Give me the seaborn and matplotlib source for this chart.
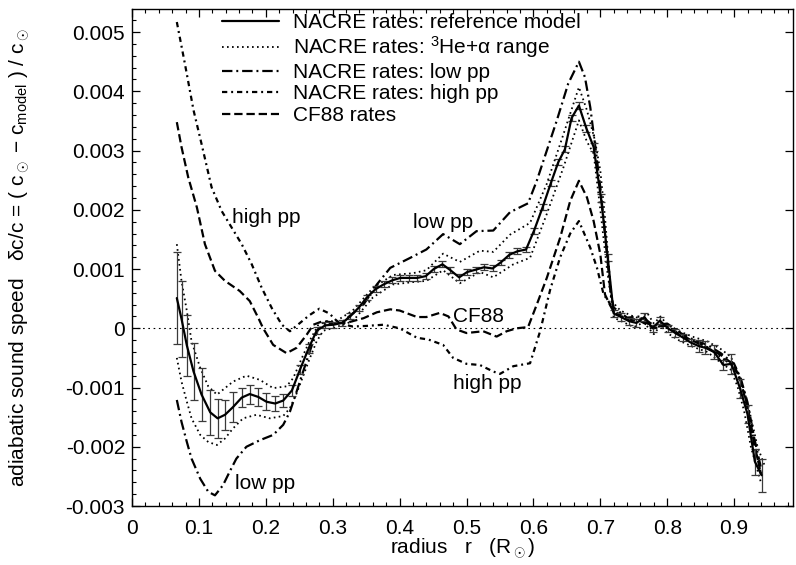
import numpy as np
import matplotlib
matplotlib.use("Agg")
import matplotlib.pyplot as plt
import seaborn as sns

# ---------------- data (sound-speed differences in units of 1e-3) ----------------
ref_r = [0.067, 0.074, 0.082, 0.092, 0.104, 0.117, 0.128, 0.139, 0.151, 0.164,
         0.176, 0.189, 0.201, 0.214, 0.226, 0.239, 0.251, 0.264, 0.276, 0.289,
         0.301, 0.314, 0.326, 0.339, 0.351, 0.364, 0.376, 0.389, 0.401, 0.414,
         0.426, 0.439, 0.451, 0.464, 0.476, 0.489, 0.501, 0.514, 0.526, 0.539,
         0.551, 0.564, 0.576, 0.589, 0.601, 0.614, 0.626, 0.637, 0.647, 0.657,
         0.668, 0.679, 0.690, 0.701, 0.711, 0.720, 0.731, 0.743, 0.754, 0.766,
         0.778, 0.789, 0.801, 0.812, 0.824, 0.835, 0.847, 0.857, 0.870, 0.884,
         0.896, 0.909, 0.920, 0.931, 0.941]
ref_dc = [0.51, 0.16, -0.29, -0.73, -1.12, -1.42, -1.52, -1.46, -1.33, -1.17,
          -1.11, -1.16, -1.24, -1.27, -1.22, -1.05, -0.70, -0.34, -0.04, 0.05,
          0.06, 0.09, 0.20, 0.35, 0.52, 0.66, 0.74, 0.81, 0.85, 0.85,
          0.85, 0.88, 1.00, 1.08, 0.98, 0.86, 0.95, 0.99, 1.03, 1.01,
          1.11, 1.24, 1.30, 1.33, 1.65, 2.05, 2.45, 2.80, 3.02, 3.55,
          3.76, 3.38, 3.06, 2.20, 1.20, 0.25, 0.19, 0.12, 0.09, 0.19,
          0.00, 0.13, 0.00, -0.08, -0.16, -0.24, -0.30, -0.33, -0.40, -0.62,
          -0.60, -1.02, -1.45, -2.25, -2.48]
ref_err = [0.78, 0.64, 0.52, 0.48, 0.45, 0.38, 0.33, 0.25, 0.25, 0.16,
           0.16, 0.15, 0.14, 0.13, 0.11, 0.10, 0.08, 0.07, 0.06, 0.05,
           0.05, 0.05, 0.05, 0.05, 0.05, 0.05, 0.05, 0.05, 0.05, 0.05,
           0.05, 0.05, 0.05, 0.05, 0.05, 0.05, 0.05, 0.05, 0.05, 0.05,
           0.05, 0.05, 0.05, 0.05, 0.05, 0.05, 0.05, 0.05, 0.05, 0.05,
           0.06, 0.06, 0.06, 0.06, 0.06, 0.06, 0.06, 0.06, 0.06, 0.06,
           0.06, 0.06, 0.06, 0.06, 0.06, 0.06, 0.10, 0.11, 0.12, 0.08,
           0.17, 0.16, 0.15, 0.22, 0.28]

he_hi_r = [0.067, 0.074, 0.082, 0.089, 0.102, 0.114, 0.127, 0.139, 0.151, 0.171,
           0.191, 0.211, 0.231, 0.241, 0.254, 0.266, 0.278, 0.29, 0.305, 0.33,
           0.36, 0.39, 0.42, 0.44, 0.465, 0.49, 0.52, 0.54, 0.565, 0.595,
           0.62, 0.645, 0.668, 0.68, 0.692, 0.70, 0.707, 0.717, 0.73, 0.745,
           0.76, 0.77, 0.78, 0.79, 0.80, 0.82, 0.84, 0.86, 0.88, 0.895,
           0.905, 0.915, 0.925, 0.935, 0.945]
he_hi_dc = [1.42, 0.80, 0.29, -0.22, -0.67, -0.98, -1.12, -1.01, -0.90, -0.80,
            -0.87, -1.01, -0.98, -0.84, -0.50, -0.20, 0.05, 0.12, 0.12, 0.30,
            0.68, 0.90, 0.93, 0.98, 1.26, 1.12, 1.31, 1.29, 1.58, 1.78,
            2.44, 3.28, 4.07, 3.68, 3.17, 2.66, 1.87, 0.46, 0.30, 0.22,
            0.16, 0.26, 0.08, 0.20, 0.06, -0.06, -0.15, -0.22, -0.35, -0.48,
            -0.72, -1.05, -1.50, -2.00, -2.30]

he_lo_r = [0.067, 0.074, 0.082, 0.089, 0.102, 0.114, 0.127, 0.139, 0.151, 0.166,
           0.186, 0.206, 0.226, 0.236, 0.246, 0.256, 0.266, 0.276, 0.286, 0.30,
           0.33, 0.36, 0.39, 0.42, 0.44, 0.465, 0.49, 0.52, 0.54, 0.57,
           0.595, 0.62, 0.645, 0.668, 0.68, 0.69, 0.70, 0.71, 0.72, 0.735,
           0.75, 0.765, 0.78, 0.79, 0.80, 0.82, 0.84, 0.86, 0.88, 0.895,
           0.905, 0.915, 0.925, 0.935, 0.94]
he_lo_dc = [-0.50, -0.90, -1.24, -1.52, -1.80, -1.92, -1.97, -1.86, -1.69, -1.52,
            -1.46, -1.52, -1.48, -1.35, -1.10, -0.80, -0.50, -0.22, -0.04, 0.00,
            0.12, 0.52, 0.74, 0.78, 0.80, 0.98, 0.76, 0.95, 0.86, 1.08,
            1.19, 1.93, 2.72, 3.51, 3.15, 2.95, 2.00, 1.00, 0.18, 0.10,
            0.02, 0.10, -0.10, 0.05, -0.08, -0.22, -0.32, -0.40, -0.58, -0.70,
            -0.98, -1.40, -2.00, -2.40, -2.60]

lowpp_r = [0.067, 0.074, 0.082, 0.089, 0.102, 0.114, 0.124, 0.136, 0.146, 0.156,
           0.171, 0.191, 0.211, 0.226, 0.236, 0.246, 0.259, 0.269, 0.278, 0.29,
           0.30, 0.316, 0.346, 0.366, 0.386, 0.416, 0.44, 0.465, 0.49, 0.515,
           0.54, 0.565, 0.592, 0.605, 0.62, 0.635, 0.652, 0.668, 0.677, 0.685,
           0.692, 0.70, 0.707, 0.715, 0.72, 0.74, 0.76, 0.78, 0.80, 0.82,
           0.84, 0.86, 0.88, 0.90, 0.91, 0.92, 0.93, 0.94]
lowpp_dc = [-1.21, -1.58, -1.92, -2.20, -2.54, -2.76, -2.82, -2.65, -2.42, -2.20,
            -2.00, -1.89, -1.80, -1.63, -1.41, -1.07, -0.62, -0.28, -0.02, 0.10,
            0.08, 0.12, 0.40, 0.74, 1.02, 1.19, 1.33, 1.59, 1.42, 1.64,
            1.65, 1.96, 2.11, 2.49, 3.00, 3.51, 4.13, 4.50, 4.24, 3.73,
            3.11, 2.38, 1.59, 0.63, 0.35, 0.18, 0.20, 0.05, 0.08, -0.08,
            -0.20, -0.28, -0.42, -0.60, -0.85, -1.25, -1.85, -2.35]

highpp_r = [0.067, 0.079, 0.092, 0.104, 0.119, 0.134, 0.149, 0.164, 0.179, 0.194,
            0.209, 0.224, 0.236, 0.25, 0.265, 0.28, 0.295, 0.31, 0.33, 0.35,
            0.376, 0.40, 0.426, 0.443, 0.465, 0.48, 0.50, 0.52, 0.54, 0.55,
            0.57, 0.595, 0.61, 0.625, 0.64, 0.655, 0.668, 0.685, 0.695, 0.705,
            0.712, 0.72, 0.74, 0.76, 0.78, 0.80, 0.82, 0.84, 0.86, 0.88,
            0.90, 0.91, 0.92, 0.93, 0.94]
highpp_dc = [5.17, 4.47, 3.68, 3.11, 2.38, 1.98, 1.70, 1.42, 1.08, 0.68,
             0.34, 0.06, -0.05, 0.08, 0.22, 0.33, 0.25, 0.08, 0.03, 0.04,
             0.06, 0.00, -0.16, -0.19, -0.28, -0.50, -0.60, -0.62, -0.73, -0.77,
             -0.64, -0.59, -0.05, 0.65, 1.20, 1.60, 1.81, 1.36, 1.02, 0.57,
             0.46, 0.30, 0.15, 0.15, 0.02, 0.05, -0.12, -0.22, -0.32, -0.48,
             -0.65, -0.90, -1.30, -1.95, -2.45]

cf88_r = [0.067, 0.074, 0.084, 0.097, 0.109, 0.124, 0.139, 0.161, 0.176, 0.189,
          0.196, 0.211, 0.231, 0.246, 0.261, 0.271, 0.285, 0.30, 0.32, 0.346,
          0.366, 0.386, 0.40, 0.426, 0.44, 0.46, 0.473, 0.485, 0.50, 0.525,
          0.545, 0.56, 0.575, 0.592, 0.605, 0.62, 0.64, 0.655, 0.668, 0.68,
          0.69, 0.70, 0.707, 0.715, 0.72, 0.74, 0.76, 0.78, 0.80, 0.82,
          0.84, 0.86, 0.88, 0.90, 0.91, 0.92, 0.93, 0.94]
cf88_dc = [3.48, 3.06, 2.55, 2.04, 1.42, 0.97, 0.80, 0.63, 0.46, 0.17,
           0.00, -0.28, -0.42, -0.33, -0.11, 0.06, 0.12, 0.10, 0.09, 0.17,
           0.27, 0.32, 0.30, 0.19, 0.19, 0.26, 0.20, -0.02, -0.08, -0.05,
           -0.14, -0.05, 0.00, 0.02, 0.40, 0.85, 1.53, 2.15, 2.49, 2.21,
           1.81, 1.25, 0.57, 0.38, 0.28, 0.15, 0.12, 0.00, 0.05, -0.12,
           -0.22, -0.33, -0.45, -0.62, -0.90, -1.35, -1.95, -2.45]

labels = ["NACRE rates: reference model",
          "NACRE rates: $^3$He+\u03b1 range",
          "NACRE rates: low pp",
          "NACRE rates: high pp",
          "CF88 rates"]

xtick_vals = [0, 0.1, 0.2, 0.3, 0.4, 0.5, 0.6, 0.7, 0.8, 0.9]
xtick_labels = ["0", "0.1", "0.2", "0.3", "0.4", "0.5", "0.6", "0.7", "0.8", "0.9"]
ytick_vals = [-0.003, -0.002, -0.001, 0, 0.001, 0.002, 0.003, 0.004, 0.005]
ytick_labels = ["-0.003", "-0.002", "-0.001", "0", "0.001", "0.002", "0.003", "0.004", "0.005"]

annotations = [("high pp", 0.149, 0.00187), ("low pp", 0.154, -0.00262),
               ("low pp", 0.420, 0.00178), ("CF88", 0.480, 0.00020),
               ("high pp", 0.480, -0.00093)]

# ---------------- style ----------------
sns.set_theme(style="ticks")
plt.rcParams["font.family"] = ["Liberation Sans", "DejaVu Sans"]
plt.rcParams["mathtext.fontset"] = "custom"
plt.rcParams["mathtext.rm"] = "Liberation Sans"
plt.rcParams["mathtext.it"] = "Liberation Sans:italic"
plt.rcParams["lines.scale_dashes"] = False
FS = 15

fig = plt.figure(figsize=(7.96, 5.65), dpi=100)
ax = fig.add_axes([132 / 796, 1 - 506 / 565, (793 - 132) / 796, (506 - 9) / 565])

s = 1e-3
ax.axhline(0, color="black", lw=0.8, ls=(0, (1.2, 2.6)), zorder=1)

sns.lineplot(x=ref_r, y=np.array(ref_dc) * s, ax=ax, color="black", lw=1.6,
             label=labels[0], sort=False, estimator=None, zorder=5)
ax.errorbar(ref_r, np.array(ref_dc) * s, yerr=np.array(ref_err) * s, fmt="none",
            ecolor="#3a3a3a", elinewidth=0.9, capsize=3, capthick=0.9, zorder=4)

sns.lineplot(x=he_hi_r, y=np.array(he_hi_dc) * s, ax=ax, color="black", lw=1.3,
             label=labels[1], sort=False, estimator=None)
ax.lines[-1].set_linestyle((0, (1.2, 2.4)))
sns.lineplot(x=he_lo_r, y=np.array(he_lo_dc) * s, ax=ax, color="black", lw=1.3,
             sort=False, estimator=None)
ax.lines[-1].set_linestyle((0, (1.2, 2.4)))

sns.lineplot(x=lowpp_r, y=np.array(lowpp_dc) * s, ax=ax, color="black", lw=1.6,
             label=labels[2], sort=False, estimator=None)
ax.lines[-1].set_linestyle((0, (7.5, 2.8, 1.4, 2.8)))

sns.lineplot(x=highpp_r, y=np.array(highpp_dc) * s, ax=ax, color="black", lw=1.6,
             label=labels[3], sort=False, estimator=None)
ax.lines[-1].set_linestyle((0, (3.8, 2.8, 1.4, 2.8)))

sns.lineplot(x=cf88_r, y=np.array(cf88_dc) * s, ax=ax, color="black", lw=1.6,
             label=labels[4], sort=False, estimator=None)
ax.lines[-1].set_linestyle((0, (6.0, 2.8)))

for txt, xx, yy in annotations:
    ax.text(xx, yy, txt, fontsize=FS, ha="left", va="center", color="black")

ax.set_xlim(0, 0.988)
ax.set_ylim(-0.003, 0.00539)
ax.set_xticks(xtick_vals)
ax.set_xticklabels(xtick_labels)
ax.set_xticks(np.arange(0, 0.99, 0.02), minor=True)
ax.set_yticks(ytick_vals)
ax.set_yticklabels(ytick_labels)
ax.set_yticks(np.arange(-0.003, 0.00539, 0.0002), minor=True)

ax.tick_params(axis="both", which="both", direction="in", colors="black",
               labelsize=FS, top=True, right=True)
ax.tick_params(axis="both", which="major", length=6, width=0.9)
ax.tick_params(axis="both", which="minor", length=3, width=0.8)
ax.tick_params(axis="y", which="minor", right=False)
ax.tick_params(axis="x", which="major", pad=9)
ax.tick_params(axis="y", which="major", pad=5)
for sp in ax.spines.values():
    sp.set_visible(True)
    sp.set_color("black")
    sp.set_linewidth(1.0)

ax.set_xlabel("radius   r   (R$_\\odot$)", fontsize=FS, color="black")
ax.set_ylabel("adiabatic sound speed   \u03b4c/c = ( c$_\\odot$ \u2212 c$_{\\rm model}$ ) / c$_\\odot$",
              fontsize=FS, color="black")
ax.xaxis.set_label_coords(0.5, -0.062)
ax.xaxis.label.set_va("top")
ax.yaxis.set_label_coords(-0.152, 0.5)

leg = ax.legend(loc="upper left", bbox_to_anchor=(0.136, 0.992), frameon=False,
                fontsize=FS, handlelength=2.75, handletextpad=0.65,
                labelspacing=0.12, borderpad=0, borderaxespad=0)
for t in leg.get_texts():
    t.set_color("black")

fig.savefig("out.png", dpi=100, facecolor="white")
